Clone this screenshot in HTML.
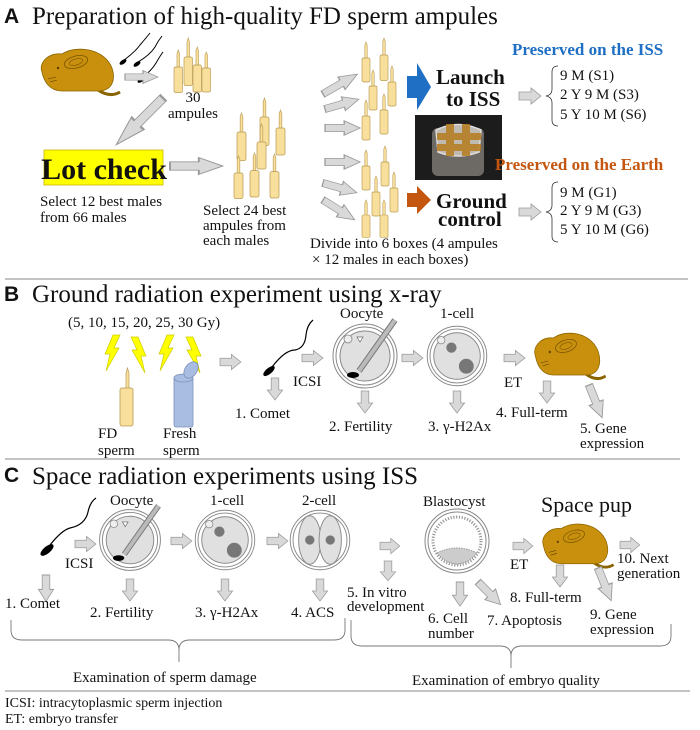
<!DOCTYPE html>
<html><head><meta charset="utf-8"><style>
html,body{margin:0;padding:0;background:#fff}
svg{display:block}
text{font-family:"Liberation Serif",serif;fill:#111}
.h{font-family:"Liberation Sans",sans-serif;font-weight:bold;font-size:21px}
.t{font-size:25px}
.s{font-size:15px}
.b{font-weight:bold}
</style></head><body>
<svg width="700" height="730" viewBox="0 0 700 730" xmlns="http://www.w3.org/2000/svg">
<defs>
<path id="ar" d="M0,-4 H12 V-8 L22,0 L12,8 V4 H0 Z" fill="#d9d9d9" stroke="#9a9a9a" stroke-width="0.8"/>
<g id="amp">
 <path d="M3.5,22 V4 L5,0 L6.5,4 V22 Z" fill="#f8df9c" stroke="#b99a50" stroke-width="0.7"/>
 <rect x="0" y="20" width="10" height="30" rx="2" fill="#f8df9c" stroke="#b99a50" stroke-width="0.8"/>
</g>
<g id="mouse">
 <path d="M62,44 Q74,52 84,46" fill="none" stroke="#8a6400" stroke-width="3"/>
 <path d="M6,26 C2,16 14,6 26,8 C40,-1 68,2 76,22 C80,34 76,44 64,45 L26,45 C14,45 8,36 6,26 Z" fill="#c8900c" stroke="#8a6400" stroke-width="0.8"/>
 <ellipse cx="40" cy="16" rx="12" ry="6" fill="none" stroke="#7a5400" stroke-width="0.8" transform="rotate(-15 40 16)"/>
 <ellipse cx="40" cy="16" rx="7" ry="3" fill="none" stroke="#7a5400" stroke-width="0.6" transform="rotate(-15 40 16)"/>
 <circle cx="22" cy="22" r="1.2" fill="#5a3a00"/>
 <path d="M12,33 L20,31 M14,36 L21,34" stroke="#5a3a00" stroke-width="0.6"/>
</g>
<g id="zona">
 <circle r="32" fill="#fff" stroke="#888" stroke-width="1"/>
 <circle r="29" fill="none" stroke="#888" stroke-width="1"/>
</g>
<g id="oocyte">
 <use href="#zona"/>
 <circle r="25" fill="#e0e0e0" stroke="#888"/>
 <circle cx="-17" cy="-17" r="4" fill="#eee" stroke="#888" stroke-width="0.8"/>
 <path d="M-8,-19 L-2,-19 L-5,-14 Z" fill="#fff" stroke="#666" stroke-width="0.7"/>
 <ellipse cx="-12" cy="19" rx="6" ry="3" fill="#000"/>
 <line x1="-6" y1="15" x2="30" y2="-36" stroke="#777" stroke-width="6"/>
 <line x1="-6" y1="15" x2="30" y2="-36" stroke="#bbb" stroke-width="4"/>
</g>
<g id="onecell">
 <use href="#zona"/>
 <circle r="25" fill="#e0e0e0" stroke="#888"/>
 <circle cx="-17" cy="-17" r="4" fill="#eee" stroke="#888" stroke-width="0.8"/>
 <circle cx="-6" cy="-9" r="5.5" fill="#777"/>
 <circle cx="10" cy="11" r="8" fill="#777"/>
</g>
<g id="twocell">
 <use href="#zona"/>
 <ellipse cx="-11" cy="0" rx="12" ry="26" fill="#e0e0e0" stroke="#888"/>
 <ellipse cx="11" cy="0" rx="12" ry="26" fill="#e0e0e0" stroke="#888"/>
 <circle cx="-11" cy="0" r="5" fill="#777"/>
 <circle cx="11" cy="0" r="5" fill="#777"/>
</g>
<polygon id="bolt" points="9,0 16,0 10,13 15,13 2,36 6,19 1,19" fill="#ffff00" stroke="#cccc00" stroke-width="0.7"/>
</defs>

<!-- ===== A ===== -->
<text x="4" y="23" class="h">A</text>
<text x="32" y="24" class="t">Preparation of high-quality FD sperm ampules</text>
<use href="#mouse" transform="translate(36,46)"/>
<!-- sperms -->
<g stroke="#000" stroke-width="1" fill="none">
<path d="M124,60 Q135,52 140,45 Q146,38 150,33"/>
<path d="M138,62 Q150,55 155,47 Q158,41 162,36"/>
<path d="M142,78 Q152,70 156,63 Q160,56 163,52"/>
</g>
<ellipse cx="123" cy="62" rx="4" ry="2" transform="rotate(-35 123 62)"/>
<ellipse cx="137" cy="64" rx="4" ry="2" transform="rotate(-35 137 64)"/>
<ellipse cx="141" cy="80" rx="4" ry="2" transform="rotate(-35 141 80)"/>
<use href="#ar" transform="translate(125,77) scale(1.5,0.8)"/>
<use href="#amp" transform="translate(174,50) scale(0.85,0.85)"/>
<use href="#amp" transform="translate(184,38) scale(0.85,0.95)"/>
<use href="#amp" transform="translate(193,47) scale(0.85,0.9)"/>
<use href="#amp" transform="translate(202,52) scale(0.85,0.8)"/>
<text x="193" y="102" class="s" text-anchor="middle">30</text>
<text x="193" y="118" class="s" text-anchor="middle">ampules</text>
<use href="#ar" transform="translate(163,98) rotate(135) scale(3,1.1)"/>
<rect x="44" y="150" width="119" height="35" fill="#ffff00" stroke="#c8b400" stroke-width="0.8"/>
<text x="104" y="179" text-anchor="middle" class="b" style="font-size:30px">Lot check</text>
<text x="40" y="206" class="s">Select 12 best males</text>
<text x="40" y="222" class="s">from 66 males</text>
<use href="#ar" transform="translate(170,166) scale(2.4,1.05)"/>
<use href="#amp" transform="translate(260,98) scale(0.9,0.95)"/>
<use href="#amp" transform="translate(237,113) scale(0.9,0.95)"/>
<use href="#amp" transform="translate(276,110) scale(0.9,0.9)"/>
<use href="#amp" transform="translate(257,124) scale(0.9,0.9)"/>
<use href="#amp" transform="translate(234,156) scale(0.9,0.85)"/>
<use href="#amp" transform="translate(250,153) scale(0.9,0.88)"/>
<use href="#amp" transform="translate(270,154) scale(0.9,0.88)"/>
<text x="203" y="215" class="s">Select 24 best</text>
<text x="203" y="230" class="s">ampules  from</text>
<text x="203" y="245" class="s">each males</text>
<!-- fan arrows -->
<use href="#ar" transform="translate(323,94) rotate(-30) scale(1.8,0.9)"/>
<use href="#ar" transform="translate(325,109) rotate(-16) scale(1.6,0.9)"/>
<use href="#ar" transform="translate(325,128) scale(1.6,0.9)"/>
<use href="#ar" transform="translate(325,162) scale(1.6,0.9)"/>
<use href="#ar" transform="translate(323,183) rotate(16) scale(1.6,0.9)"/>
<use href="#ar" transform="translate(323,200) rotate(32) scale(1.7,0.9)"/>
<!-- upper ampules -->
<use href="#amp" transform="translate(362,42) scale(0.8,0.8)"/>
<use href="#amp" transform="translate(380,38) scale(0.8,0.85)"/>
<use href="#amp" transform="translate(369,70) scale(0.8,0.8)"/>
<use href="#amp" transform="translate(388,66) scale(0.8,0.8)"/>
<use href="#amp" transform="translate(362,100) scale(0.8,0.8)"/>
<use href="#amp" transform="translate(380,94) scale(0.8,0.8)"/>
<!-- lower ampules -->
<use href="#amp" transform="translate(362,150) scale(0.8,0.8)"/>
<use href="#amp" transform="translate(381,146) scale(0.8,0.8)"/>
<use href="#amp" transform="translate(372,176) scale(0.8,0.8)"/>
<use href="#amp" transform="translate(390,172) scale(0.8,0.8)"/>
<use href="#amp" transform="translate(362,200) scale(0.8,0.75)"/>
<use href="#amp" transform="translate(380,200) scale(0.8,0.75)"/>
<!-- launch / ground -->
<polygon points="407,76 417,76 417,63 431,87 417,110 417,98 407,98" fill="#1f6fc4"/>
<text x="436" y="84" class="b" style="font-size:21px">Launch</text>
<text x="446" y="106" class="b" style="font-size:21px">to ISS</text>
<rect x="415" y="115" width="87" height="65" fill="#1c1c1c"/>
<rect x="432" y="128" width="52" height="48" rx="6" fill="#6d6a66"/>
<path d="M436,130 Q458,119 481,130 L479,152 Q458,160 438,152 Z" fill="#bfbab2" stroke="#ddd" stroke-width="1.5"/>
<path d="M446,124 L454,124 L454,156 L446,156 Z M462,124 L470,124 L470,156 L462,156 Z M437,133 L481,133 L481,140 L437,140 Z M437,144 L481,144 L481,151 L437,151 Z" fill="#b57a1c" opacity="0.85"/>
<polygon points="407,193 417,193 417,186 431,200 417,214 417,207 407,207" fill="#c4560f"/>
<text x="436" y="208" class="b" style="font-size:21px">Ground</text>
<text x="438" y="226" class="b" style="font-size:21px">control</text>
<text x="512" y="55" class="b" style="font-size:17px;fill:#1f6fc4">Preserved on the ISS</text>
<text x="495" y="170" class="b" style="font-size:17px;fill:#c4560f">Preserved on the Earth</text>
<use href="#ar" transform="translate(519,96) scale(1,1)"/>
<use href="#ar" transform="translate(519,212) scale(1,1)"/>
<path d="M558,66 Q552,66 552,72 L552,89 Q552,95 546,96 Q552,97 552,103 L552,120 Q552,126 558,126" fill="none" stroke="#333" stroke-width="0.8"/>
<path d="M558,182 Q552,182 552,188 L552,205 Q552,211 546,212 Q552,213 552,219 L552,236 Q552,242 558,242" fill="none" stroke="#333" stroke-width="0.8"/>
<text x="560" y="80" class="s">9 M (S1)</text>
<text x="560" y="99" class="s">2 Y 9 M (S3)</text>
<text x="560" y="119" class="s">5 Y 10 M (S6)</text>
<text x="560" y="197" class="s">9 M (G1)</text>
<text x="560" y="215" class="s">2 Y 9 M (G3)</text>
<text x="560" y="234" class="s">5 Y 10 M (G6)</text>
<text x="310" y="248" class="s">Divide into 6 boxes (4 ampules</text>
<text x="312" y="264" class="s">× 12 males in each boxes)</text>
<line x1="5" y1="279" x2="688" y2="279" stroke="#888" stroke-width="1"/>

<!-- ===== B ===== -->
<text x="4" y="301" class="h">B</text>
<text x="32" y="302" class="t">Ground radiation experiment using x-ray</text>
<text x="68" y="327" class="s">(5, 10, 15, 20, 25, 30 Gy)</text>
<use href="#bolt" transform="translate(104,335)"/>
<use href="#bolt" transform="translate(131,337) scale(-1,1) translate(-16,0)"/>
<use href="#bolt" transform="translate(158,335)"/>
<use href="#bolt" transform="translate(186,337) scale(-1,1) translate(-16,0)"/>
<path d="M126,390 V373 L127.5,368 L129,373 V390 Z" fill="#f8df9c" stroke="#b99a50" stroke-width="0.7"/>
<rect x="120" y="388" width="13" height="38" rx="2" fill="#f8df9c" stroke="#b99a50" stroke-width="0.8"/>
<rect x="174" y="377" width="19" height="50" rx="2" fill="#a9bde2" stroke="#7d90b8" stroke-width="0.8"/>
<ellipse cx="183.5" cy="378" rx="9.5" ry="4" fill="#a9bde2" stroke="#7d90b8" stroke-width="0.8"/>
<ellipse cx="191" cy="370" rx="6" ry="9" fill="#a9bde2" stroke="#7d90b8" stroke-width="0.8" transform="rotate(35 191 370)"/>
<text x="98" y="438" class="s">FD</text>
<text x="98" y="455" class="s">sperm</text>
<text x="163" y="438" class="s">Fresh</text>
<text x="163" y="455" class="s">sperm</text>
<use href="#ar" transform="translate(220,362) scale(0.95,0.95)"/>
<path d="M272,367 Q285,350 295,350 Q305,348 306,335 Q307,325 313,320" fill="none" stroke="#000" stroke-width="1.2"/>
<ellipse cx="269" cy="371" rx="7" ry="3" transform="rotate(-40 269 371)"/>
<use href="#ar" transform="translate(275,378) rotate(90) scale(1,0.95)"/>
<text x="235" y="418" class="s">1. Comet</text>
<use href="#ar" transform="translate(302,358) scale(0.95,0.95)"/>
<text x="293" y="386" class="s">ICSI</text>
<text x="340" y="318" class="s">Oocyte</text>
<use href="#oocyte" transform="translate(365,356)"/>
<use href="#ar" transform="translate(402,358) scale(0.95,0.95)"/>
<text x="440" y="318" class="s">1-cell</text>
<use href="#onecell" transform="translate(457,356) scale(0.93)"/>
<use href="#ar" transform="translate(504,358) scale(0.95,0.95)"/>
<text x="504" y="387" class="s">ET</text>
<use href="#mouse" transform="translate(530,330) scale(0.9,1)"/>
<use href="#ar" transform="translate(365,391) rotate(90) scale(1,0.95)"/>
<use href="#ar" transform="translate(457,391) rotate(90) scale(1,0.95)"/>
<use href="#ar" transform="translate(547,381) rotate(90) scale(1,0.95)"/>
<use href="#ar" transform="translate(589,385) rotate(68) scale(1.6,0.95)"/>
<text x="329" y="431" class="s">2. Fertility</text>
<text x="428" y="431" class="s">3. γ-H2Ax</text>
<text x="496" y="417" class="s">4. Full-term</text>
<text x="580" y="433" class="s">5. Gene</text>
<text x="580" y="448" class="s">expression</text>
<line x1="5" y1="459" x2="680" y2="459" stroke="#888" stroke-width="1"/>

<!-- ===== C ===== -->
<text x="4" y="482" class="h">C</text>
<text x="32" y="484" class="t">Space radiation experiments using ISS</text>
<path d="M50,545 Q62,530 70,528 Q85,525 88,512 Q90,502 96,498" fill="none" stroke="#000" stroke-width="1.2"/>
<ellipse cx="47" cy="550" rx="8" ry="3.5" transform="rotate(-40 47 550)"/>
<use href="#ar" transform="translate(46,575) rotate(90) scale(1.2,0.95)"/>
<text x="5" y="608" class="s">1. Comet</text>
<use href="#ar" transform="translate(75,544) scale(0.95,0.95)"/>
<text x="65" y="568" class="s">ICSI</text>
<text x="110" y="505" class="s">Oocyte</text>
<use href="#oocyte" transform="translate(130,540) scale(0.95)"/>
<use href="#ar" transform="translate(171,541) scale(0.95,0.95)"/>
<text x="210" y="505" class="s">1-cell</text>
<use href="#onecell" transform="translate(225,540) scale(0.93)"/>
<use href="#ar" transform="translate(267,541) scale(0.95,0.95)"/>
<text x="302" y="505" class="s">2-cell</text>
<use href="#twocell" transform="translate(320,540) scale(0.93)"/>
<use href="#ar" transform="translate(130,579) rotate(90) scale(1,0.95)"/>
<use href="#ar" transform="translate(225,579) rotate(90) scale(1,0.95)"/>
<use href="#ar" transform="translate(320,579) rotate(90) scale(1,0.95)"/>
<text x="90" y="617" class="s">2. Fertility</text>
<text x="195" y="617" class="s">3. γ-H2Ax</text>
<text x="291" y="617" class="s">4. ACS</text>
<use href="#ar" transform="translate(380,546) scale(0.9,0.95)"/>
<use href="#ar" transform="translate(388,561) rotate(90) scale(0.9,0.95)"/>
<text x="347" y="597" class="s">5. In vitro</text>
<text x="347" y="611" class="s">development</text>
<text x="423" y="506" class="s">Blastocyst</text>
<g transform="translate(457,541)">
<use href="#zona"/>
<circle r="24" fill="none" stroke="#999" stroke-width="3" stroke-dasharray="1.2 1.6"/>
<path d="M-20,12 Q0,2 20,12 Q12,22 0,23 Q-12,22 -20,12 Z" fill="#ccc" stroke="#999" stroke-width="1" stroke-dasharray="1.5 1"/>
</g>
<use href="#ar" transform="translate(460,582) rotate(90) scale(1.1,0.95)"/>
<use href="#ar" transform="translate(478,582) rotate(45) scale(1.45,0.95)"/>
<text x="428" y="623" class="s">6. Cell</text>
<text x="428" y="638" class="s">number</text>
<text x="487" y="625" class="s">7. Apoptosis</text>
<use href="#ar" transform="translate(513,546) scale(0.9,0.95)"/>
<text x="510" y="569" class="s">ET</text>
<text x="541" y="512" style="font-size:22px">Space pup</text>
<use href="#mouse" transform="translate(538,521) scale(0.9,0.95)"/>
<use href="#ar" transform="translate(560,565) rotate(90) scale(1,0.95)"/>
<use href="#ar" transform="translate(598,568) rotate(68) scale(1.6,0.95)"/>
<use href="#ar" transform="translate(620,545) scale(0.9,0.95)"/>
<text x="617" y="563" class="s">10. Next</text>
<text x="617" y="578" class="s">generation</text>
<text x="510" y="602" class="s">8. Full-term</text>
<text x="590" y="619" class="s">9. Gene</text>
<text x="590" y="634" class="s">expression</text>
<!-- braces -->
<path d="M11,620 V630 Q11,640 22,640 L168,640 Q179,640 179,650 L179,662 M179,650 Q179,640 190,640 L334,640 Q345,640 345,630 V618" fill="none" stroke="#777" stroke-width="0.9"/>
<path d="M351,620 V636 Q351,646 362,646 L500,646 Q511,646 511,656 L511,668 M511,656 Q511,646 522,646 L660,646 Q671,646 671,636 V624" fill="none" stroke="#777" stroke-width="0.9"/>
<text x="73" y="682" class="s">Examination of sperm damage</text>
<text x="412" y="685" class="s">Examination of embryo quality</text>
<line x1="5" y1="691" x2="690" y2="691" stroke="#888" stroke-width="1"/>
<text x="5" y="707" style="font-size:14px">ICSI: intracytoplasmic sperm injection</text>
<text x="5" y="723" style="font-size:14px">ET: embryo transfer</text>
</svg>
</body></html>
